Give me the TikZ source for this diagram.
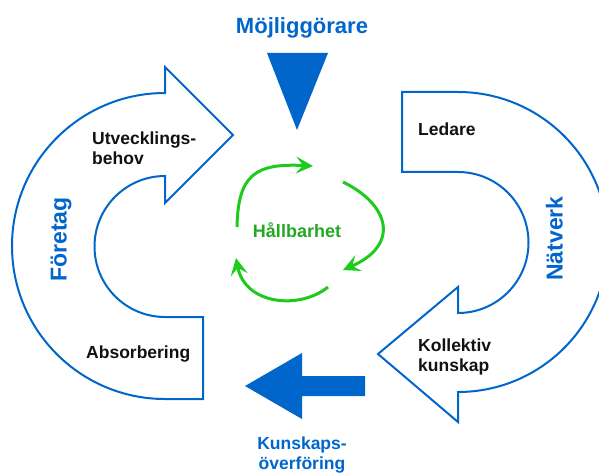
\documentclass[tikz,border=0pt]{standalone}
\usepackage{fontspec}
\setmainfont{Liberation Sans}
\usetikzlibrary{arrows.meta}
\definecolor{cblue}{HTML}{0066CC}
\definecolor{cgreen}{HTML}{1CCB1C}
\definecolor{tgreen}{HTML}{22A822}
\definecolor{ink}{HTML}{111111}

\begin{document}
\begin{tikzpicture}[x=1pt, y=1pt,
  band/.style={draw=cblue, line width=2pt, fill=white, line join=miter},
  solid/.style={fill=cblue, draw=none},
  lbl/.style={font=\bfseries\fontsize{17.5}{20}\selectfont, text=ink, anchor=west, align=left, inner sep=0},
  head/.style={font=\bfseries\fontsize{22}{26}\selectfont, text=cblue, inner sep=0},
  side/.style={font=\bfseries\fontsize{23}{26}\selectfont, text=cblue, rotate=90, inner sep=0},
  cyc/.style={cgreen, line width=3pt, -{Stealth[length=17pt, width=17pt, inset=7pt]}}]
  \useasboundingbox (0,0) rectangle (599,-473);
  \clip (0,0) rectangle (599,-473);
  \draw[band] (165,-93) arc[start angle=90, end angle=270, radius=153] -- (203,-399) -- (203,-317)
    -- (165,-317) arc[start angle=270, end angle=90, radius=70.5] -- (165,-203) -- (233,-135) -- (165,-67) -- cycle;
  \draw[band] (402,-92) -- (458,-92) arc[start angle=90, end angle=-90, radius=150] -- (458,-422) -- (378,-354)
    -- (458,-287) -- (458,-313) arc[start angle=-90, end angle=90, radius=70.5] -- (402,-172) -- cycle;
  \fill[solid] (267,-53) -- (328,-53) -- (297,-130) -- cycle;
  \fill[solid] (365,-376) -- (302,-376) -- (302,-353) -- (245,-386) -- (302,-419) -- (302,-396) -- (365,-396) -- cycle;
  \node[head] (enabler) at (302,-27.5) {Möjliggörare};
  \node[head, font=\bfseries\fontsize{17.5}{20}\selectfont, align=center] (transfer) at (302,-455) {Kunskaps-\\överföring};
  \node[side] (firm) at (61,-239.5) {Företag};
  \node[side] (network) at (554.5,-238.5) {Nätverk};
  \node[lbl] (need) at (92,-148.5) {Utvecklings-\\behov};
  \node[lbl] (absorb) at (86,-354) {Absorbering};
  \node[lbl] (lead) at (418,-129.5) {Ledare};
  \node[lbl] (know) at (418,-356.5) {Kollektiv\\kunskap};
  \node[font=\bfseries\fontsize{18}{20}\selectfont, text=tgreen, inner sep=0] (sust) at (297,-230.5) {Hållbarhet};
  \draw[cyc] (237,-227) .. controls (238,-175) and (255,-163) .. (313,-166);
  \draw[cyc] (343,-182) .. controls (390,-205) and (400,-245) .. (343,-270);
  \draw[cyc] (328,-287) .. controls (300,-310) and (245,-305) .. (236,-258);
\end{tikzpicture}
\end{document}
